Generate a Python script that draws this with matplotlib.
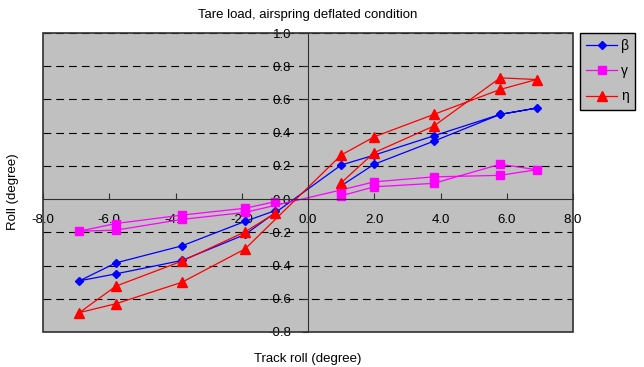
import matplotlib
matplotlib.use("Agg")
import matplotlib.pyplot as plt
from matplotlib.patches import Rectangle

plt.rcParams['font.family'] = ['Liberation Sans', 'DejaVu Sans']

# track roll path: -1 -> -7 -> back, then +1 -> +7 -> back
track = [-1.0, -1.9, -3.8, -5.8, -6.9, -5.8, -3.8, -1.9,
         1.0, 2.0, 3.8, 5.8, 6.9, 5.8, 3.8, 2.0, 1.0]
beta = [-0.07, -0.134, -0.281, -0.384, -0.492, -0.45, -0.369, -0.213,
        0.205, 0.265, 0.381, 0.51, 0.548, 0.51, 0.349, 0.21, 0.08]
gamma = [-0.016, -0.055, -0.096, -0.147, -0.193, -0.187, -0.122, -0.08,
         0.055, 0.104, 0.134, 0.143, 0.177, 0.21, 0.095, 0.074, 0.02]
eta = [-0.086, -0.197, -0.373, -0.524, -0.683, -0.63, -0.5, -0.3,
       0.265, 0.375, 0.51, 0.66, 0.72, 0.73, 0.44, 0.28, 0.098]

xticks = [-8, -6, -4, -2, 0, 2, 4, 6, 8]
yticks = [-0.8, -0.6, -0.4, -0.2, 0.0, 0.2, 0.4, 0.6, 0.8, 1.0]

fig = plt.figure(figsize=(6.44, 3.67), dpi=100)
ax = fig.add_axes([43/644, 1-332/367, 530/644, 299/367])
ax.set_facecolor('#C0C0C0')

l1, = ax.plot(track, beta, color='#0000FF', marker='D', ms=4.5, lw=0.9, label='β')
l2, = ax.plot(track, gamma, color='#FF00FF', marker='s', ms=5.5, lw=0.9, label='γ')
l3, = ax.plot(track, eta, color='#FF0000', marker='^', ms=6.5, lw=0.9, label='η')

ax.set_xlim(-8, 8)
ax.set_ylim(-0.8, 1.0)
ax.set_xticks(xticks)
ax.set_xticklabels(['%.1f' % v for v in xticks])
ax.set_yticks(yticks)
ax.set_yticklabels(['%.1f' % v for v in yticks])

for y in yticks:
    if y != 0.0:
        ax.axhline(y, color='black', lw=0.8, ls=(0, (7, 4.5)), zorder=1)

ax.spines['left'].set_position(('data', 0))
ax.spines['bottom'].set_position(('data', 0))
ax.spines['left'].set_color('#303030')
ax.spines['bottom'].set_color('#303030')
ax.spines['top'].set_visible(False)
ax.spines['right'].set_visible(False)
ax.add_patch(Rectangle((0, 0), 1, 1, transform=ax.transAxes, fill=False,
                       edgecolor='#303030', lw=1.2, clip_on=False, zorder=5))

ax.tick_params(axis='x', direction='in', length=4, pad=11, labelsize=9.5, color='#303030')
ax.tick_params(axis='y', direction='out', length=4, pad=8, labelsize=9.5, color='#303030')
for lab in ax.get_xticklabels() + ax.get_yticklabels():
    lab.set_zorder(6)

ax.set_xlabel('Track roll (degree)', fontsize=9.5)
ax.xaxis.set_label_coords(0.5, -0.07)
ax.set_ylabel('Roll (degree)', fontsize=9.5)
ax.yaxis.set_label_coords(-0.045, 0.47)

fig.text(308/644, 1-15/367, 'Tare load, airspring deflated condition',
         ha='center', va='center', fontsize=9.5)

leg = fig.legend(handles=[l1, l2, l3], loc='upper left',
                 bbox_to_anchor=(580/644, 1-33/367), fontsize=10,
                 frameon=True, fancybox=False, handlelength=2.2,
                 labelspacing=0.8, borderpad=0.45, handletextpad=0.3,
                 borderaxespad=0)
leg.get_frame().set_facecolor('#C0C0C0')
leg.get_frame().set_edgecolor('black')
leg.get_frame().set_linewidth(1.0)
leg.get_frame().set_alpha(1)

fig.savefig('out.png', dpi=100)
